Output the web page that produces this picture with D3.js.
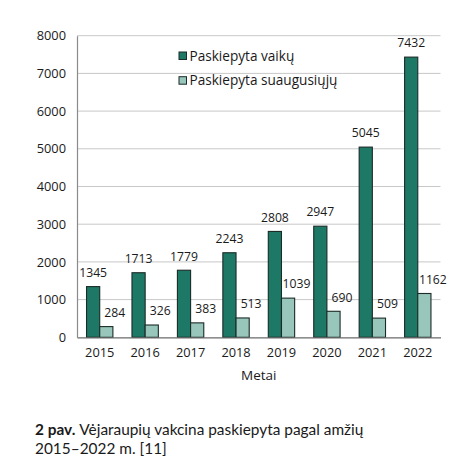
<!DOCTYPE html>
<html><head><meta charset="utf-8">
<script src="https://cdn.jsdelivr.net/npm/d3@7"></script>
<style>
html,body{margin:0;padding:0;background:#fff;}
svg{display:block;font-family:"Open Sans",sans-serif;}
</style></head>
<body>
<svg id="c" width="474" height="474"></svg>
<script>
const years = ["2015","2016","2017","2018","2019","2020","2021","2022"];
const children = [1345,1713,1779,2243,2808,2947,5045,7432];
const adults = [284,326,383,513,1039,690,509,1162];
const seriesNames = ["Paskiepyta vaikų","Paskiepyta suaugusiųjų"];
const yTicks = [0,1000,2000,3000,4000,5000,6000,7000,8000];
const xTitle = "Metai";
const captionBold = "2 pav.";
const captionLine1 = "Vėjaraupių vakcina paskiepyta pagal amžių";
const captionLine2 = "2015–2022 m. [11]";

const colors = ["#1d7866","#98c6ba"];
const svg = d3.select("#c");
const L = 77, R = 440.5, T = 35.7, B = 337.3;

const x = d3.scaleBand().domain(years).range([L,R]).paddingInner(0.42).paddingOuter(0.21);
const x1 = d3.scaleBand().domain([0,1]).range([0,x.bandwidth()]);
const y = d3.scaleLinear().domain([0,8000]).range([B,T]);

// gridlines
svg.append("g").selectAll("line").data(yTicks.filter(d=>d>0)).join("line")
  .attr("x1",L).attr("x2",R).attr("y1",d=>y(d)).attr("y2",d=>y(d))
  .attr("stroke","#c8c8c8").attr("stroke-width",1);

// y axis
const yAxis = d3.axisLeft(y).tickValues(yTicks).tickSize(0).tickPadding(11).tickFormat(d3.format("d"));
const gy = svg.append("g").attr("transform",`translate(${L},0)`).call(yAxis);
gy.select(".domain").attr("stroke","#8a8a8a").attr("stroke-width",1.2);
gy.selectAll("text").attr("font-size",12.8).attr("fill","#1a1a1a").attr("font-family","Open Sans");

// bars
const groups = svg.append("g").selectAll("g").data(years).join("g")
  .attr("transform",d=>`translate(${x(d)},0)`);
groups.each(function(yr,i){
  const g = d3.select(this);
  [children[i],adults[i]].forEach((v,j)=>{
    g.append("rect").attr("x",x1(j)).attr("width",x1.bandwidth())
      .attr("y",y(v)).attr("height",B-y(v))
      .attr("fill",colors[j]).attr("stroke","#1b2b27").attr("stroke-width",1.1);
    g.append("text").attr("x",x1(j)+x1.bandwidth()/2+(j===1?8.5:0))
      .attr("y",y(v)-14).attr("dy","0.35em").attr("text-anchor","middle")
      .attr("font-size",12.2).attr("fill","#1a1a1a").text(v);
  });
});

// x axis
const xAxis = d3.axisBottom(x).tickSize(0).tickPadding(11);
const gx = svg.append("g").attr("transform",`translate(0,${B})`).call(xAxis);
gx.select(".domain").attr("stroke","#6a6a6a").attr("stroke-width",1.2);
gx.selectAll("text").attr("font-size",12.8).attr("fill","#1a1a1a").attr("font-family","Open Sans");

svg.append("text").attr("x",(L+R)/2).attr("y",375).attr("dy","0.35em")
  .attr("text-anchor","middle").attr("font-size",13.5).attr("fill","#1a1a1a").text(xTitle);

// legend
const lg = svg.append("g").selectAll("g").data(seriesNames).join("g")
  .attr("transform",(d,i)=>`translate(179,${52+i*24.7})`);
lg.append("rect").attr("width",7.5).attr("height",7.5)
  .attr("fill",(d,i)=>colors[i]).attr("stroke","#1b2b27").attr("stroke-width",1);
lg.append("text").attr("x",10.5).attr("y",4).attr("dy","0.35em")
  .attr("font-size",13.6).attr("fill","#1a1a1a").text(d=>d);

// caption
const capFont = "Lato";
const capB = svg.append("text").attr("x",35).attr("y",435).attr("font-size",15.4)
  .attr("font-family",capFont).attr("font-weight","bold").attr("fill","#1a1a1a").text(captionBold);
const bw = capB.node().getComputedTextLength();
svg.append("text").attr("x",35+bw+4).attr("y",435).attr("font-size",15.4)
  .attr("font-family",capFont).attr("fill","#1a1a1a").text(captionLine1);
svg.append("text").attr("x",35).attr("y",453.5).attr("font-size",15.4)
  .attr("font-family",capFont).attr("fill","#1a1a1a").text(captionLine2);
</script>
</body></html>
